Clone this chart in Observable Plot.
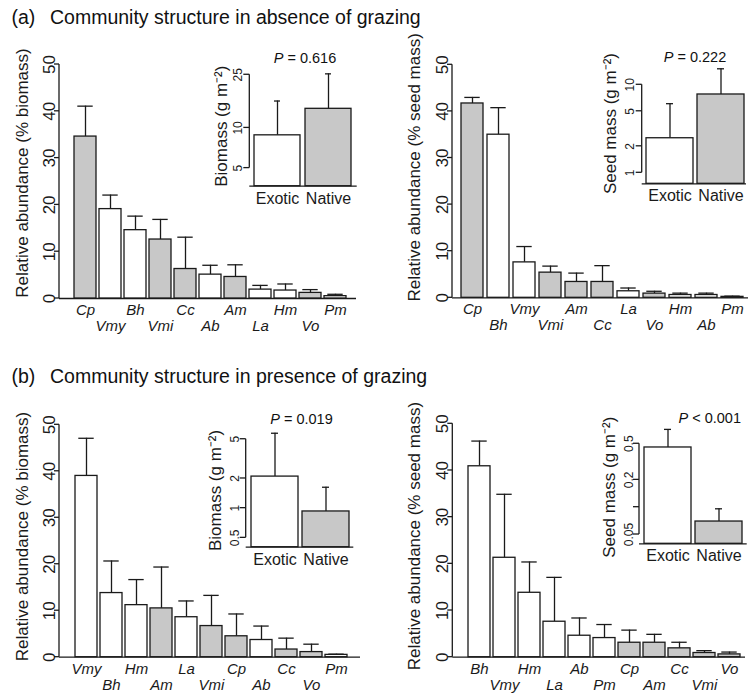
<!DOCTYPE html>
<html><head><meta charset="utf-8">
<script src="https://cdn.jsdelivr.net/npm/d3@7"></script>
<script src="https://cdn.jsdelivr.net/npm/@observablehq/plot@0.6"></script>
<style>
body{margin:0;background:#fff;}
#wrap{position:relative;width:748px;height:693px;overflow:hidden;font-family:"Liberation Sans",Arial,Helvetica,sans-serif;color:#111;}
.abs{position:absolute;}
.abs svg{max-width:none;display:block;}
.title{font-size:19.5px;line-height:1;white-space:nowrap;}
.pl{font-size:14.5px;line-height:1;white-space:nowrap;}
</style></head><body><div id="wrap"></div>
<script>
// ---------- data ----------
const nativeSpecies = ["Cp", "Vmi", "Cc", "Am", "Vo"];
const yTicksMain = [0, 10, 20, 30, 40, 50];
const groups = ["Exotic", "Native"];

// (a) no grazing, % biomass
const spA1 = ["Cp","Vmy","Bh","Vmi","Cc","Ab","Am","La","Hm","Vo","Pm"];
const meanA1 = [34.6, 19.1, 14.6, 12.6, 6.3, 5.1, 4.6, 1.9, 1.7, 1.2, 0.5];
const upA1   = [41.1, 22.1, 17.6, 16.9, 13.1, 7.1, 7.2, 2.8, 3.1, 1.9, 0.9];
// (a) no grazing, % seed mass
const spA2 = ["Cp","Bh","Vmy","Vmi","Am","Cc","La","Vo","Hm","Ab","Pm"];
const meanA2 = [41.7, 35.0, 7.6, 5.4, 3.4, 3.4, 1.4, 0.9, 0.6, 0.6, 0.2];
const upA2   = [43.0, 40.8, 11.0, 6.8, 5.3, 6.9, 2.1, 1.4, 1.0, 1.0, 0.35];
// (b) grazing, % biomass
const spB1 = ["Vmy","Bh","Hm","Am","La","Vmi","Cp","Ab","Cc","Vo","Pm"];
const meanB1 = [39.0, 13.8, 11.2, 10.5, 8.6, 6.7, 4.5, 3.7, 1.65, 1.1, 0.5];
const upB1   = [47.1, 20.7, 16.7, 19.4, 12.1, 13.3, 9.3, 6.7, 4.1, 2.8, 0.65];
// (b) grazing, % seed mass
const spB2 = ["Bh","Vmy","Hm","La","Ab","Pm","Cp","Am","Cc","Vmi","Vo"];
const meanB2 = [40.9, 21.3, 13.8, 7.6, 4.6, 4.1, 3.1, 3.1, 1.9, 0.9, 0.6];
const upB2   = [46.3, 34.9, 20.4, 17.1, 8.4, 7.0, 5.8, 4.9, 3.2, 1.4, 1.1];

// insets: Exotic, Native
const insA1Mean = [8.8, 13.9];   const insA1Up = [15.9, 25.4];
const insA2Mean = [2.47, 7.76];  const insA2Up = [6.1, 15.2];
const insB1Mean = [2.09, 0.926]; const insB1Up = [5.75, 1.63];
const insB2Mean = [0.455, 0.0695]; const insB2Up = [0.72, 0.096];
const insA1Ticks = [5, 10, 25];
const insA2Ticks = [1, 2, 5, 10];
const insB1Ticks = [0.5, 1, 2, 5];
const insB2Ticks = [0.05, 0.1, 0.2, 0.5];

// ---------- style ----------
const FONT = '"Liberation Sans", Arial, Helvetica, sans-serif';
const INK = "#1a1a1a";
const GREY = "#c8c8c8";
const LW = 1.3;
const wrap = document.getElementById("wrap");
const SVGNS = "http://www.w3.org/2000/svg";

function place(node, left, top, w) {
  const d = document.createElement("div");
  d.className = "abs";
  d.style.left = left + "px"; d.style.top = top + "px";
  if (w) d.style.width = w + "px";
  d.appendChild(node);
  wrap.appendChild(d);
  return d;
}

// R-style y axis: line from first to last tick, with outward ticks
const yAxisMark = (ticks, size) => (index, scales, values, dims) => {
  const g = document.createElementNS(SVGNS, "g");
  g.setAttribute("stroke", INK);
  g.setAttribute("stroke-width", LW);
  const x0 = dims.marginLeft;
  const seg = (x1, y1, x2, y2) => {
    const l = document.createElementNS(SVGNS, "line");
    l.setAttribute("x1", x1); l.setAttribute("y1", y1);
    l.setAttribute("x2", x2); l.setAttribute("y2", y2);
    g.appendChild(l);
  };
  seg(x0, scales.y(ticks[0]), x0, scales.y(ticks[ticks.length - 1]));
  for (const t of ticks) seg(x0 - size, scales.y(t), x0, scales.y(t));
  return g;
};

function tickLabels(ticks, off, size, hide) {
  return Plot.text(ticks, {y: d => d, text: d => (hide || []).includes(d) ? "" : String(d),
    frameAnchor: "left", rotate: -90, textAnchor: "middle", lineAnchor: "bottom", dx: -off, fontSize: size, fill: INK});
}

function mainPanel(c) {
  const rows = c.sp.map((sp, i) => ({sp, mean: c.mean[i], up: c.up[i], native: nativeSpecies.includes(sp), row: i % 2}));
  const p = Plot.plot({
    width: c.w, height: c.h,
    marginLeft: c.ml, marginRight: c.mr, marginTop: c.mt, marginBottom: c.mb,
    style: {fontFamily: FONT, background: "transparent", overflow: "visible", color: INK},
    x: {type: "band", domain: c.sp, range: c.xr, paddingInner: 0.14, paddingOuter: 0, axis: null},
    y: {domain: [0, 50], axis: null},
    marks: [
      Plot.ruleY([0], {stroke: INK, strokeWidth: LW}),
      yAxisMark(yTicksMain, 5),
      tickLabels(yTicksMain, 5, 17),
      Plot.ruleX(rows, {x: "sp", y1: "mean", y2: "up", stroke: INK, strokeWidth: LW}),
      Plot.tickY(rows, {x: "sp", y: "up", stroke: INK, strokeWidth: LW, insetLeft: 3.3, insetRight: 3.3}),
      Plot.barY(rows, {x: "sp", y: "mean", fill: d => d.native ? GREY : "white", stroke: INK, strokeWidth: LW}),
      Plot.text(rows, {filter: d => d.row === 0, x: "sp", text: "sp", frameAnchor: "bottom", dy: 16.5, lineAnchor: "bottom", fontStyle: "italic", fontSize: 15, fill: INK}),
      Plot.text(rows, {filter: d => d.row === 1, x: "sp", text: "sp", frameAnchor: "bottom", dy: 32.5, lineAnchor: "bottom", fontStyle: "italic", fontSize: 15, fill: INK}),
      Plot.text([c.ylabel], {frameAnchor: "left", rotate: -90, textAnchor: "middle", dx: c.ldx, dy: c.ldy, lineAnchor: "bottom", fontSize: 17, fill: INK})
    ]
  });
  place(p, c.left, c.top, c.w);
}

function insetPanel(c) {
  const rows = groups.map((g, i) => ({g, mean: c.mean[i], up: c.up[i]}));
  const lo = c.domain[0];
  const p = Plot.plot({
    width: c.w, height: c.h,
    marginLeft: c.ml, marginRight: c.mr, marginTop: c.mt, marginBottom: c.mb,
    style: {fontFamily: FONT, background: "transparent", overflow: "visible", color: INK},
    x: {type: "band", domain: groups, range: c.xr, paddingInner: c.pad, paddingOuter: 0, axis: null},
    y: {type: "log", domain: c.domain, axis: null},
    marks: [
      Plot.ruleY([lo], {stroke: INK, strokeWidth: LW}),
      yAxisMark(c.ticks, 6),
      tickLabels(c.ticks, 6 + c.tp, 12, c.hide),
      Plot.ruleX(rows, {x: "g", y1: "mean", y2: "up", stroke: INK, strokeWidth: LW}),
      Plot.tickY(rows, {x: "g", y: "up", stroke: INK, strokeWidth: LW, insetLeft: 20, insetRight: 20}),
      Plot.barY(rows, {x: "g", y1: lo, y2: "mean", fill: d => d.g === "Native" ? GREY : "white", stroke: INK, strokeWidth: LW}),
      Plot.text(rows, {x: "g", text: "g", frameAnchor: "bottom", dy: 17.5, lineAnchor: "bottom", fontSize: 16, fill: INK}),
      Plot.text([c.ylabel], {frameAnchor: "left", rotate: -90, textAnchor: "middle", dx: c.ldx, dy: c.ldy, lineAnchor: "bottom", fontSize: 17, fill: INK})
    ]
  });
  place(p, c.left, c.top, c.w);
}

// ---------- main panels ----------
mainPanel({sp: spA1, mean: meanA1, up: upA1, ylabel: "Relative abundance (% biomass)",
  left: 0, top: 30, w: 370, h: 320, ml: 59, mr: 14, mt: 34, mb: 52, xr: [70, 350], ldx: -32, ldy: -8.5});
mainPanel({sp: spA2, mean: meanA2, up: upA2, ylabel: "Relative abundance (% seed mass)",
  left: 370, top: 30, w: 378, h: 320, ml: 82, mr: 0, mt: 34.3, mb: 52.7, xr: [88, 376], ldx: -33, ldy: -14});
mainPanel({sp: spB1, mean: meanB1, up: upB1, ylabel: "Relative abundance (% biomass)",
  left: 0, top: 390, w: 370, h: 303, ml: 59, mr: 10, mt: 34.3, mb: 36.3, xr: [71, 350], ldx: -32, ldy: -4.5});
mainPanel({sp: spB2, mean: meanB2, up: upB2, ylabel: "Relative abundance (% seed mass)",
  left: 370, top: 390, w: 378, h: 303, ml: 82.3, mr: 3, mt: 33.3, mb: 36.3, xr: [93.3, 373.3], ldx: -33.3, ldy: -4.4});

// ---------- insets ----------
insetPanel({mean: insA1Mean, up: insA1Up, ticks: insA1Ticks, domain: [3.66, 30], ylabel: "Biomass (g m\u207B\u00B2)",
  left: 190, top: 40, w: 175, h: 175, ml: 59.3, mr: 8.3, mt: 23.7, mb: 29.3, xr: [62.7, 162], pad: 0.09, tp: 2, ldx: -23.3, ldy: 1});
insetPanel({mean: insA2Mean, up: insA2Up, ticks: insA2Ticks, domain: [0.75, 20], ylabel: "Seed mass (g m\u207B\u00B2)",
  left: 575, top: 40, w: 173, h: 175, ml: 66.7, mr: 2, mt: 17.8, mb: 31.7, xr: [70.7, 170], pad: 0.078, tp: 2.5, ldx: -26.7, ldy: 2.5});
insetPanel({mean: insB1Mean, up: insB1Up, ticks: insB1Ticks, domain: [0.402, 8], ylabel: "Biomass (g m\u207B\u00B2)",
  left: 185, top: 390, w: 180, h: 190, ml: 60.7, mr: 11.7, mt: 28.6, mb: 33.3, xr: [65, 164], pad: 0.081, tp: 1.5, ldx: -25.2, ldy: 7.3});
insetPanel({mean: insB2Mean, up: insB2Up, ticks: insB2Ticks, hide: [0.1], domain: [0.0395, 0.9], ylabel: "Seed mass (g m\u207B\u00B2)",
  left: 575, top: 390, w: 173, h: 190, ml: 64, mr: 1.3, mt: 30.1, mb: 36.7, xr: [68.3, 167.3], pad: 0.087, tp: 0.5, ldx: -25, ldy: 5});

// ---------- titles and P values ----------
function label(html, cls, left, top, anchor) {
  const d = document.createElement("div");
  d.className = "abs " + cls;
  d.style.left = left + "px"; d.style.top = top + "px";
  if (anchor === "middle") d.style.transform = "translateX(-50%)";
  if (anchor === "end") d.style.transform = "translateX(-100%)";
  d.innerHTML = html;
  wrap.appendChild(d);
}
label("(a)", "title", 11.5, 7.5);
label("Community structure in absence of grazing", "title", 50, 7.5);
label("(b)", "title", 11.5, 366.8);
label("Community structure in presence of grazing", "title", 50, 366.8);
label("<i>P</i> = 0.616", "pl", 305, 51.2, "middle");
label("<i>P</i> = 0.222", "pl", 695, 49.9, "middle");
label("<i>P</i> = 0.019", "pl", 301.5, 411.5, "middle");
label("<i>P</i> &lt; 0.001", "pl", 741, 410.9, "end");
</script></body></html>
